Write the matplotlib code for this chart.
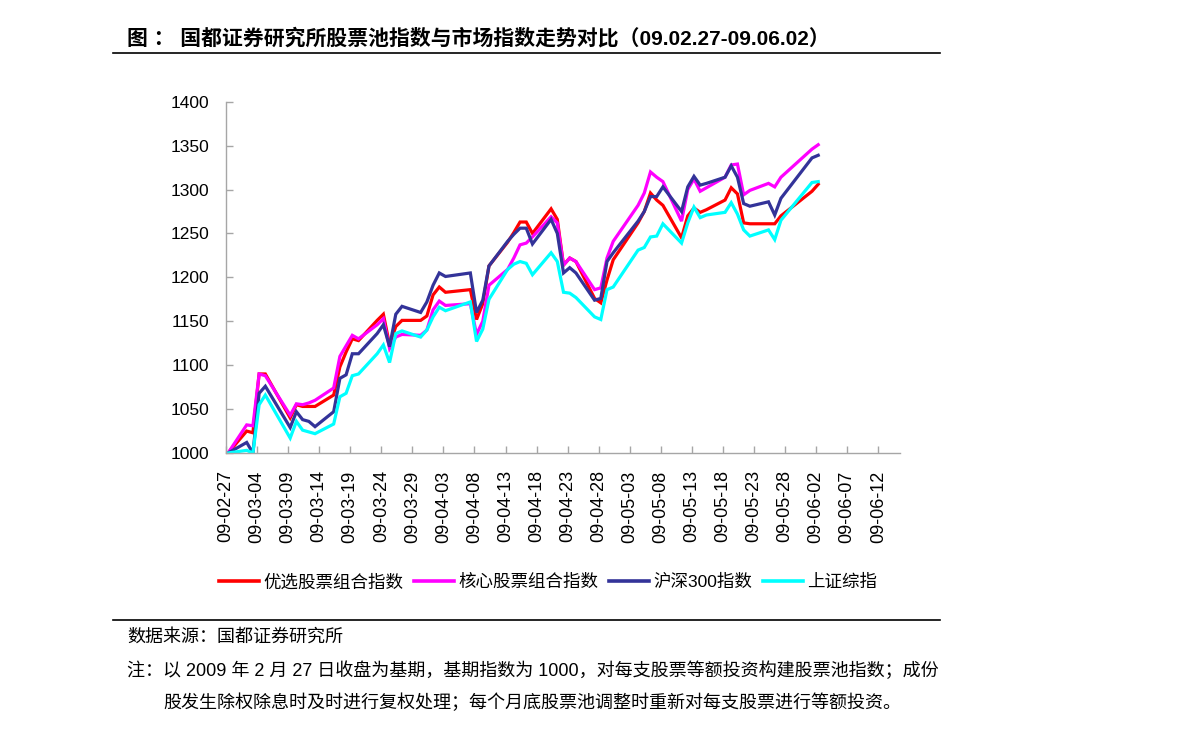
import matplotlib
matplotlib.use('Agg')
import matplotlib.pyplot as plt
import matplotlib.dates as mdates
from matplotlib.lines import Line2D
import pandas as pd

plt.rcParams['font.family'] = ['Liberation Sans', 'Noto Sans CJK SC', 'DejaVu Sans']

# ---------------- data ----------------
dates = ['2009-02-27', '2009-03-02', '2009-03-03', '2009-03-04', '2009-03-05',
         '2009-03-09', '2009-03-10', '2009-03-11', '2009-03-12', '2009-03-13',
         '2009-03-16', '2009-03-17', '2009-03-18', '2009-03-19', '2009-03-20',
         '2009-03-23', '2009-03-24', '2009-03-25', '2009-03-26', '2009-03-27',
         '2009-03-30', '2009-03-31', '2009-04-01', '2009-04-02', '2009-04-03',
         '2009-04-07', '2009-04-08', '2009-04-09', '2009-04-10', '2009-04-13',
         '2009-04-14', '2009-04-15', '2009-04-16', '2009-04-17', '2009-04-20',
         '2009-04-21', '2009-04-22', '2009-04-23', '2009-04-24', '2009-04-27',
         '2009-04-28', '2009-04-29', '2009-04-30', '2009-05-04', '2009-05-05',
         '2009-05-06', '2009-05-07', '2009-05-08', '2009-05-11', '2009-05-12',
         '2009-05-13', '2009-05-14', '2009-05-15', '2009-05-18', '2009-05-19',
         '2009-05-20', '2009-05-21', '2009-05-22', '2009-05-25', '2009-05-26',
         '2009-05-27', '2009-06-01', '2009-06-02']

youxuan = [1000, 1025, 1023, 1090, 1090,
           1040, 1055, 1053, 1053, 1053,
           1066, 1098, 1115, 1130, 1128,
           1151, 1158, 1123, 1144, 1151,
           1151, 1156, 1180, 1189, 1183,
           1186, 1152, 1170, 1213, 1240,
           1251, 1263, 1263, 1250, 1278,
           1266, 1214, 1222, 1218, 1176,
           1171, 1197, 1220, 1262, 1275,
           1296, 1288, 1282, 1245, 1270,
           1279, 1274, 1277, 1288, 1302,
           1295, 1262, 1261, 1261, 1261,
           1270, 1298, 1306]

hexin = [1000, 1032, 1031, 1090, 1088,
         1043, 1056, 1055, 1057, 1060,
         1074, 1110, 1122, 1134, 1130,
         1146, 1153, 1119, 1132, 1135,
         1134, 1140, 1163, 1173, 1168,
         1170, 1135, 1150, 1191, 1209,
         1222, 1237, 1239, 1246, 1269,
         1262, 1214, 1222, 1218, 1186,
         1188, 1222, 1241, 1282, 1296,
         1320, 1314, 1309, 1264, 1300,
         1312, 1298, 1302, 1314, 1328,
         1329, 1294, 1299, 1307, 1303,
         1314, 1346, 1351]

hs300 = [1000, 1012, 1000, 1068, 1076,
         1029, 1047, 1038, 1036, 1030,
         1047, 1085, 1089, 1113, 1113,
         1136, 1146, 1121, 1158, 1167,
         1160, 1172, 1191, 1205, 1201,
         1205, 1160, 1174, 1213, 1241,
         1249, 1256, 1256, 1238, 1266,
         1250, 1205, 1211, 1205, 1174,
         1176, 1218, 1228, 1264, 1275,
         1292, 1292, 1303, 1275, 1303,
         1315, 1305, 1307, 1314, 1327,
         1314, 1284, 1281, 1286, 1271,
         1290, 1336, 1339]

shzz = [1000, 1003, 1000, 1055, 1066,
        1017, 1036, 1026, 1024, 1022,
        1033, 1064, 1068, 1088, 1090,
        1113, 1123, 1103, 1136, 1139,
        1132, 1140, 1155, 1166, 1162,
        1172, 1127, 1141, 1175, 1209,
        1215, 1218, 1216, 1203, 1228,
        1218, 1183, 1182, 1177, 1155,
        1152, 1186, 1189, 1231, 1234,
        1246, 1247, 1261, 1239, 1262,
        1280, 1268, 1271, 1274, 1285,
        1272, 1254, 1247, 1254, 1243,
        1265, 1308, 1309]

series_names = ['优选股票组合指数', '核心股票组合指数', '沪深300指数', '上证综指']
series_values = [youxuan, hexin, hs300, shzz]
series_colors = ['#FF0000', '#FF00FF', '#333399', '#00FFFF']

tick_dates = pd.date_range('2009-02-27', '2009-06-12', freq='5D')

title = '图 ： 国都证券研究所股票池指数与市场指数走势对比（09.02.27-09.06.02）'
source = '数据来源：国都证券研究所'
note1 = '注：以 2009 年 2 月 27 日收盘为基期，基期指数为 1000，对每支股票等额投资构建股票池指数；成份'
note2 = '股发生除权除息时及时进行复权处理；每个月底股票池调整时重新对每支股票进行等额投资。'

# ---------------- figure ----------------
W, H = 1191, 734
fig = plt.figure(figsize=(W / 100, H / 100), dpi=100)

def fx(px):
    return px / W

def fy(py):
    return 1 - py / H

ax = fig.add_axes([fx(226), fy(453), fx(900) - fx(226), fy(101.7) - fy(453)])

x = pd.to_datetime(dates) + pd.Timedelta(hours=8)
for name, vals, col in zip(series_names, series_values, series_colors):
    ax.plot(x, vals, color=col, lw=2.3, label=name, solid_joinstyle='miter')

start = pd.Timestamp('2009-02-27')
ax.set_xlim(start, start + pd.Timedelta(days=108.5))
ax.set_ylim(1000, 1400)
ax.set_yticks(range(1000, 1401, 50))
ax.set_xticks(tick_dates)
ax.xaxis.set_major_formatter(mdates.DateFormatter('%y-%m-%d'))

for s in ['top', 'right']:
    ax.spines[s].set_visible(False)
for s in ['left', 'bottom']:
    ax.spines[s].set_color('#a6a6a6')
    ax.spines[s].set_linewidth(1.0)
ax.tick_params(axis='both', direction='in', length=5, width=1, color='#a6a6a6',
               labelcolor='black')
ax.tick_params(axis='y', pad=12, labelsize=12.5)
ax.tick_params(axis='x', pad=12.5, labelsize=13, labelrotation=90)

# legend
handles = [Line2D([0], [0], color=c, lw=2.6) for c in series_colors]
fig.legend(handles, series_names, loc='center', bbox_to_anchor=(fx(548), fy(582)),
           ncol=4, frameon=False, fontsize=12.6, handlelength=2.3, handletextpad=0.25,
           columnspacing=0.6, borderaxespad=0)

# title and rules
fig.text(fx(127), fy(38), title, fontsize=15, fontweight='bold', va='center', ha='left')
fig.add_artist(Line2D([fx(113), fx(940)], [fy(53), fy(53)], color='black', lw=1.2))
fig.add_artist(Line2D([fx(113), fx(940)], [fy(620), fy(620)], color='black', lw=1.2))

fig.text(fx(127), fy(637), source, fontsize=13, va='center', ha='left')
fig.text(fx(127), fy(671), note1, fontsize=13, va='center', ha='left')
fig.text(fx(163), fy(703), note2, fontsize=13, va='center', ha='left')

fig.savefig('out.png', dpi=100)
